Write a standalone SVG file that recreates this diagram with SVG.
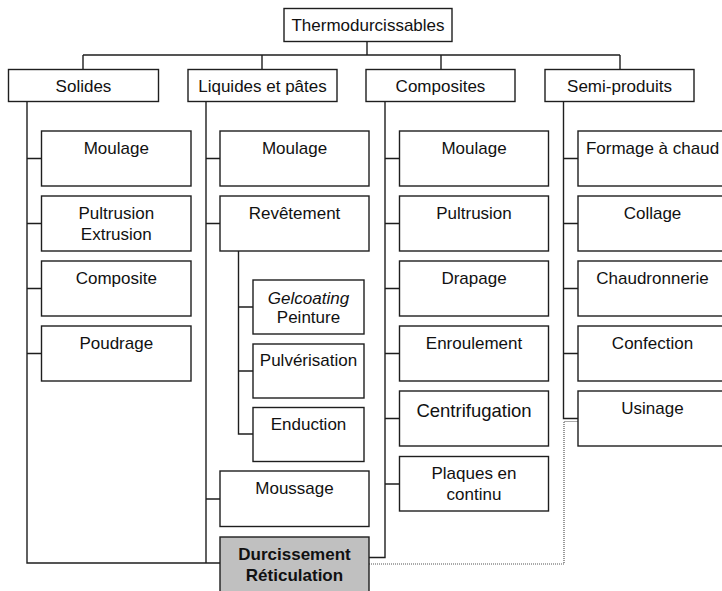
<svg xmlns="http://www.w3.org/2000/svg" width="722" height="591" viewBox="0 0 722 591">
<style>
.box{fill:#fff;stroke:#1e1e1e;stroke-width:1.4}
.hl{fill:#c0c0c0;stroke:#1e1e1e;stroke-width:1.4}
.ln{fill:none;stroke:#1e1e1e;stroke-width:1.4}
.dot{fill:none;stroke:#555;stroke-width:1.2;stroke-dasharray:1 1}
text{font-family:"Liberation Sans",Arial,sans-serif;font-size:17px;fill:#111;text-anchor:middle}
.b{font-weight:bold}
.i{font-style:italic}
</style>
<rect width="722" height="591" fill="#fff"/>
<g id="connectors">
<path class="ln" d="M367,41.5V55M83,55H620M83,55V69.5M262,55V69.5M441,55V69.5M620,55V69.5"/>
<path class="ln" d="M27,101.5V563H220M27,158.5H41.5M27,223.5H41.5M27,288.5H41.5M27,353.5H41.5"/>
<path class="ln" d="M206,101.5V563M206,158.5H220M206,223.5H220M206,499H220"/>
<path class="ln" d="M238.5,251V434H253M238.5,307H253M238.5,371H253"/>
<path class="ln" d="M385,101.5V557.5H369M385,158.5H399.5M385,223.5H399.5M385,288.5H399.5M385,353.5H399.5M385,418.5H399.5M385,484H399.5"/>
<path class="ln" d="M563.5,101.5V418.5H578M563.5,158.5H578M563.5,223.5H578M563.5,288.5H578M563.5,353.5H578"/>
<path class="dot" d="M369,564H564V421.5H578"/>
</g>
<g id="thermo"><rect class="box" x="284" y="8.5" width="168" height="33"/><text x="368" y="31">Thermodurcissables</text></g>
<g id="solides"><rect class="box" x="8.5" y="69.5" width="150" height="32"/><text x="83.5" y="92">Solides</text></g>
<g id="liquides"><rect class="box" x="188" y="69.5" width="149" height="32"/><text x="262.5" y="92">Liquides et pâtes</text></g>
<g id="composites"><rect class="box" x="366" y="69.5" width="149" height="32"/><text x="440.5" y="92">Composites</text></g>
<g id="semi"><rect class="box" x="545" y="69.5" width="149" height="32"/><text x="619.5" y="92">Semi-produits</text></g>

<g id="s-moulage"><rect class="box" x="41.5" y="131" width="149.5" height="55"/><text x="116.3" y="153.5">Moulage</text></g>
<g id="s-pultrusion"><rect class="box" x="41.5" y="196" width="149.5" height="55"/><text x="116.3" y="218.5">Pultrusion</text><text x="116.3" y="239.5">Extrusion</text></g>
<g id="s-composite"><rect class="box" x="41.5" y="261" width="149.5" height="55"/><text x="116.3" y="283.5">Composite</text></g>
<g id="s-poudrage"><rect class="box" x="41.5" y="326" width="149.5" height="55"/><text x="116.3" y="348.5">Poudrage</text></g>

<g id="l-moulage"><rect class="box" x="220" y="131" width="149" height="55"/><text x="294.5" y="153.5">Moulage</text></g>
<g id="l-revetement"><rect class="box" x="220" y="196" width="149" height="55"/><text x="294.5" y="218.5">Revêtement</text></g>
<g id="l-gelcoating"><rect class="box" x="253" y="280" width="111" height="54"/><text class="i" x="308.5" y="303.5">Gelcoating</text><text x="308.5" y="323">Peinture</text></g>
<g id="l-pulverisation"><rect class="box" x="253" y="344" width="111" height="54"/><text x="308.5" y="365.5">Pulvérisation</text></g>
<g id="l-enduction"><rect class="box" x="253" y="407.5" width="111" height="54"/><text x="308.5" y="429.5">Enduction</text></g>
<g id="l-moussage"><rect class="box" x="220" y="471" width="149" height="55.5"/><text x="294.5" y="493.5">Moussage</text></g>
<g id="durcissement"><rect class="hl" x="220" y="537" width="149" height="60"/><text class="b" x="294.5" y="559.5">Durcissement</text><text class="b" x="294.5" y="581">Réticulation</text></g>

<g id="c-moulage"><rect class="box" x="399.5" y="131" width="149" height="55"/><text x="474" y="153.5">Moulage</text></g>
<g id="c-pultrusion"><rect class="box" x="399.5" y="196" width="149" height="55"/><text x="474" y="218.5">Pultrusion</text></g>
<g id="c-drapage"><rect class="box" x="399.5" y="261" width="149" height="55"/><text x="474" y="283.5">Drapage</text></g>
<g id="c-enroulement"><rect class="box" x="399.5" y="326" width="149" height="55"/><text x="474" y="348.5">Enroulement</text></g>
<g id="c-centrifugation"><rect class="box" x="399.5" y="391" width="149" height="55"/><text x="474" y="417" style="font-size:18.5px">Centrifugation</text></g>
<g id="c-plaques"><rect class="box" x="399.5" y="456.5" width="149" height="54.5"/><text x="474" y="478.5">Plaques en</text><text x="474" y="499.5">continu</text></g>

<g id="p-formage"><rect class="box" x="578" y="131" width="149" height="55"/><text x="652.5" y="153.5">Formage à chaud</text></g>
<g id="p-collage"><rect class="box" x="578" y="196" width="149" height="55"/><text x="652.5" y="218.5">Collage</text></g>
<g id="p-chaudronnerie"><rect class="box" x="578" y="261" width="149" height="55"/><text x="652.5" y="283.5">Chaudronnerie</text></g>
<g id="p-confection"><rect class="box" x="578" y="326" width="149" height="55"/><text x="652.5" y="348.5">Confection</text></g>
<g id="p-usinage"><rect class="box" x="578" y="391" width="149" height="55"/><text x="652.5" y="413.5">Usinage</text></g>
</svg>
